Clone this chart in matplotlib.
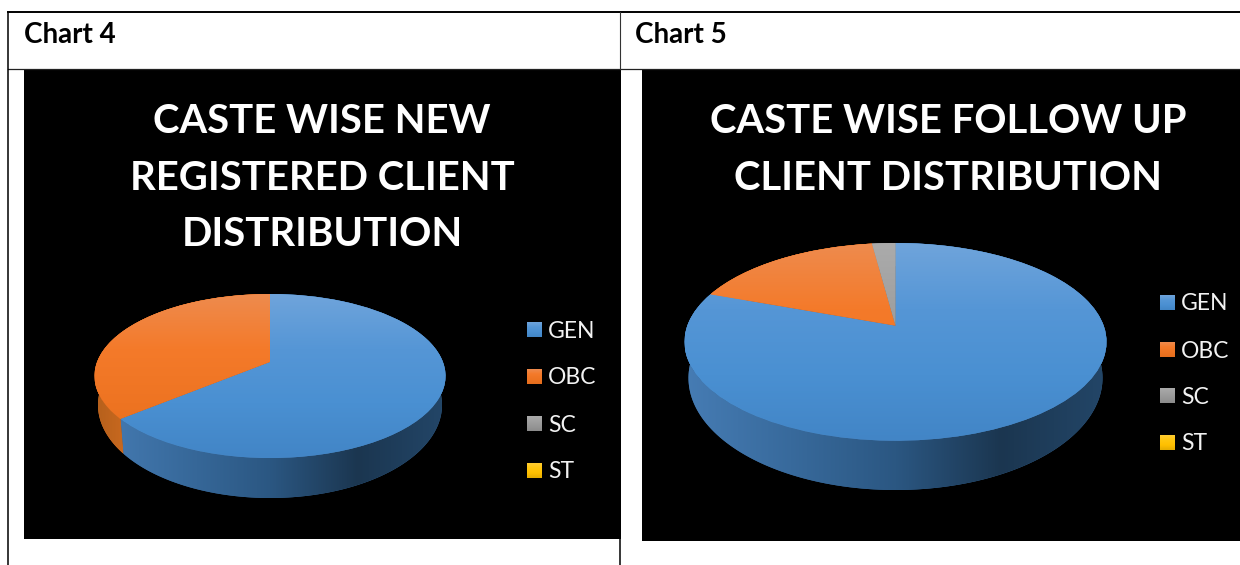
import numpy as np
import matplotlib
matplotlib.use("Agg")
import matplotlib.pyplot as plt
from matplotlib.colors import LinearSegmentedColormap, to_rgb
from matplotlib.patches import Polygon, Rectangle
from matplotlib.transforms import Transform

plt.rcParams['font.family'] = ['Lato', 'DejaVu Sans']

categories = ["GEN", "OBC", "SC", "ST"]
new_registered = [64.0, 36.0, 0.0, 0.0]
follow_up = [80.6, 17.3, 2.1, 0.0]
new_title = "CASTE WISE NEW\nREGISTERED CLIENT\nDISTRIBUTION"
follow_title = "CASTE WISE FOLLOW UP\nCLIENT DISTRIBUTION"

top_colours = [["#6FA4DB", "#5596D6", "#4A90D2", "#4285C6"],
               ["#EE8B4E", "#F47A2A", "#EE7422", "#E56D1D"],
               ["#ABABAB", "#A0A0A0", "#979797", "#8B8B8B"],
               ["#FFCC33", "#FFC60F", "#FFC000", "#E5AC00"]]
wall_colours = [["#467CB4", "#386A9C", "#2B5782", "#1B3650", "#234668"],
                ["#B5601C", "#F07A25", "#F07A25", "#F07A25", "#F07A25"],
                ["#777777", "#666666", "#555555", "#555555", "#555555"],
                ["#B58900", "#A88000", "#907000", "#907000", "#907000"]]


class PerspectiveDisk(Transform):
	# maps the unit disk to a tilted disk in pixel coordinates
	input_dims = 2
	output_dims = 2

	def __init__(self, cx, cy, half_width, up, down):
		super().__init__()
		ratio = down / up
		self.k = (ratio - 1) / (ratio + 1)
		self.cx, self.cy = cx, cy
		self.a = half_width * np.sqrt(1 - self.k ** 2)
		self.b = up * (1 + self.k)

	def transform_non_affine(self, values):
		values = np.asarray(values, dtype=float)
		w = 1 + self.k * values[:, 1]
		return np.column_stack((self.cx + self.a * values[:, 0] / w, self.cy - self.b * values[:, 1] / w))


def gradient(ax, colours, extent, horizontal=False, zorder=2):
	cmap = LinearSegmentedColormap.from_list("g", [to_rgb(c) for c in colours])
	ramp = np.linspace(0, 1, 256)
	ramp = ramp.reshape(1, -1) if horizontal else ramp.reshape(-1, 1)
	return ax.imshow(ramp, cmap=cmap, extent=extent, origin="upper" if not horizontal else "lower",
					 aspect="auto", vmin=0, vmax=1, zorder=zorder, interpolation="bilinear")


def draw_pie(ax, values, top_disk, bottom_disk):
	top = PerspectiveDisk(*top_disk)
	bottom = PerspectiveDisk(*bottom_disk)
	cx, cy, half_width, up, down = top_disk
	wedges, _ = ax.pie(values, startangle=90, counterclock=False, colors=[c[1] for c in top_colours],
					   wedgeprops={"linewidth": 0, "zorder": 3})
	for wedge, top_c, wall_c in zip(wedges, top_colours, wall_colours):
		if wedge.theta2 - wedge.theta1 <= 0:
			continue
		wedge.set_transform(top + ax.transData)
		image = gradient(ax, top_c, (cx - half_width, cx + half_width, cy + down, cy - up), zorder=3.1)
		image.set_clip_path(wedge)
		# side wall of the slice
		angles = np.radians(np.linspace(wedge.theta1, wedge.theta2, 200))
		rim = np.column_stack((np.cos(angles), np.sin(angles)))
		outline = np.vstack((top.transform_non_affine(rim), bottom.transform_non_affine(rim)[::-1]))
		wall = Polygon(outline, closed=True, facecolor=wall_c[1], edgecolor="none", zorder=2)
		ax.add_patch(wall)
		image = gradient(ax, wall_c, (cx - half_width, cx + half_width, bottom_disk[1] + bottom_disk[4], cy - up),
						 horizontal=True, zorder=2.1)
		image.set_clip_path(wall)


def draw_legend(ax, x, ys, size):
	for name, y, colours in zip(categories, ys, top_colours):
		gradient(ax, colours, (x, x + 15, y + 7.5, y - 7.5), zorder=4)
		ax.text(x + 21, y + 1, name, color="#F2F2F2", fontsize=size, va="center", ha="left", zorder=4)


fig = plt.figure(figsize=(12.4, 5.65), dpi=100)
ax = fig.add_axes([0, 0, 1, 1])
fig.patch.set_facecolor("white")

# the two black chart panels
ax.add_patch(Rectangle((24, 69), 597, 470, facecolor="black", edgecolor="none", zorder=1))
ax.add_patch(Rectangle((642, 69), 598, 472, facecolor="black", edgecolor="none", zorder=1))

# table lines around the charts
ax.plot([8, 1240], [12, 12], color="black", lw=1.4, zorder=5)
ax.plot([8, 1240], [68.5, 68.5], color="#222222", lw=0.9, zorder=5)
ax.plot([8, 8], [12, 565], color="black", lw=1.1, zorder=5)
ax.plot([620, 620], [12, 69], color="#333333", lw=0.8, zorder=5)
ax.plot([620, 620], [539, 565], color="black", lw=1.1, zorder=5)

ax.text(24, 35, "Chart 4", fontsize=20, fontweight="bold", color="black", va="center", ha="left")
ax.text(635, 35, "Chart 5", fontsize=20, fontweight="bold", color="black", va="center", ha="left")

ax.text(322, 178, new_title, color="white", fontsize=28.8, fontweight="bold", ha="center", va="center",
		linespacing=1.65, zorder=4)
ax.text(948, 150, follow_title, color="white", fontsize=28.8, fontweight="bold", ha="center", va="center",
		linespacing=1.65, zorder=4)

draw_pie(ax, new_registered, (270, 362, 175.5, 68, 96), (270, 389, 172, 77, 109))
draw_pie(ax, follow_up, (895.5, 325.7, 211, 82.7, 115), (895.5, 359.7, 207, 93.7, 130.3))

draw_legend(ax, 527, [330, 377, 424, 471], 16.5)
draw_legend(ax, 1160, [303, 350, 396, 443], 16.5)

ax.set_aspect("auto")
ax.set_xlim(0, 1240)
ax.set_ylim(565, 0)
ax.axis("off")

fig.savefig("out.png", dpi=100, facecolor="white")
